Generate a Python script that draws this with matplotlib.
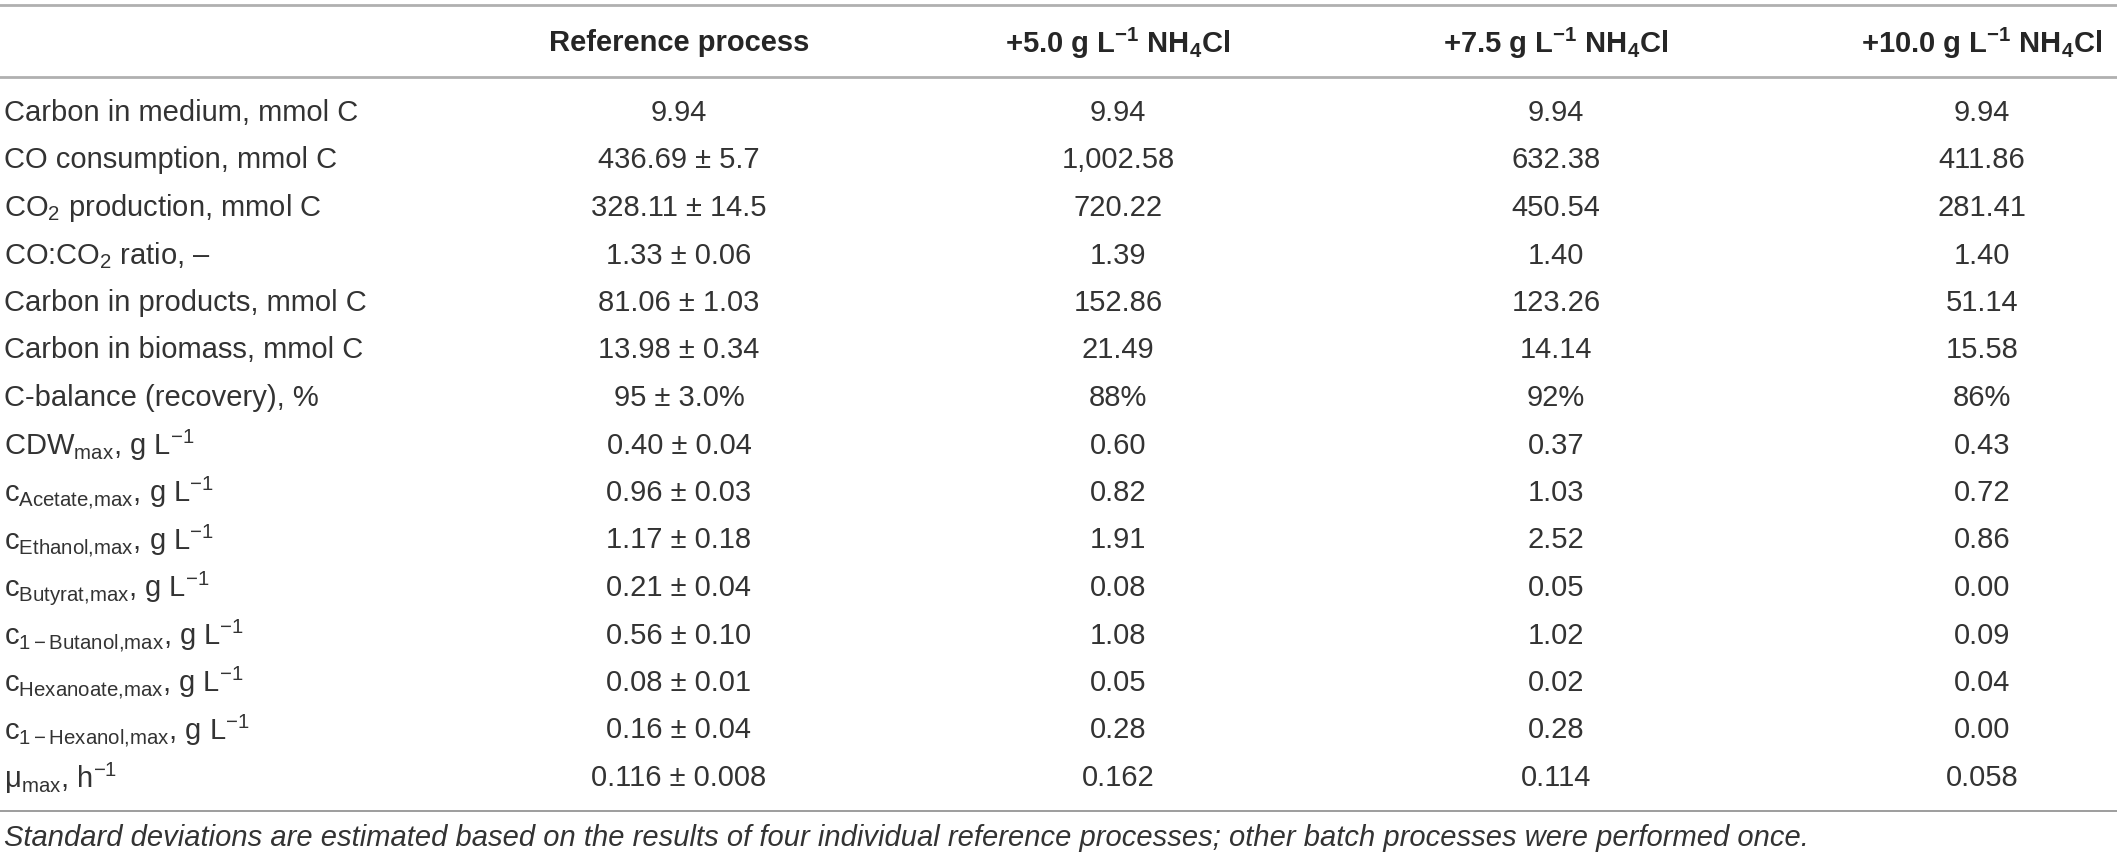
import matplotlib
matplotlib.use('Agg')
import matplotlib.pyplot as plt

plt.rcParams['font.family'] = ['Liberation Sans', 'DejaVu Sans']
plt.rcParams['mathtext.fontset'] = 'custom'
plt.rcParams['mathtext.rm'] = 'Liberation Sans'
plt.rcParams['mathtext.it'] = 'Liberation Sans:italic'
plt.rcParams['mathtext.bf'] = 'Liberation Sans:bold'

# 表头
col_headers = [
    'Reference process',
    r'+5.0 g L$^{\mathbf{-1}}$ NH$_{\mathbf{4}}$Cl',
    r'+7.5 g L$^{\mathbf{-1}}$ NH$_{\mathbf{4}}$Cl',
    r'+10.0 g L$^{\mathbf{-1}}$ NH$_{\mathbf{4}}$Cl',
]

row_labels = [
    'Carbon in medium, mmol C',
    'CO consumption, mmol C',
    r'CO$_2$ production, mmol C',
    r'CO:CO$_2$ ratio, –',
    'Carbon in products, mmol C',
    'Carbon in biomass, mmol C',
    'C-balance (recovery), %',
    r'CDW$_{\mathrm{max}}$, g L$^{-1}$',
    r'c$_{\mathrm{Acetate{,}max}}$, g L$^{-1}$',
    r'c$_{\mathrm{Ethanol{,}max}}$, g L$^{-1}$',
    r'c$_{\mathrm{Butyrat{,}max}}$, g L$^{-1}$',
    r'c$_{\mathrm{1-Butanol{,}max}}$, g L$^{-1}$',
    r'c$_{\mathrm{Hexanoate{,}max}}$, g L$^{-1}$',
    r'c$_{\mathrm{1-Hexanol{,}max}}$, g L$^{-1}$',
    r'μ$_{\mathrm{max}}$, h$^{-1}$',
]

ref_process = ['9.94', '436.69 ± 5.7', '328.11 ± 14.5', '1.33 ± 0.06', '81.06 ± 1.03',
               '13.98 ± 0.34', '95 ± 3.0%', '0.40 ± 0.04', '0.96 ± 0.03', '1.17 ± 0.18',
               '0.21 ± 0.04', '0.56 ± 0.10', '0.08 ± 0.01', '0.16 ± 0.04', '0.116 ± 0.008']
nh4cl_5 = ['9.94', '1,002.58', '720.22', '1.39', '152.86', '21.49', '88%', '0.60',
           '0.82', '1.91', '0.08', '1.08', '0.05', '0.28', '0.162']
nh4cl_7_5 = ['9.94', '632.38', '450.54', '1.40', '123.26', '14.14', '92%', '0.37',
             '1.03', '2.52', '0.05', '1.02', '0.02', '0.28', '0.114']
nh4cl_10 = ['9.94', '411.86', '281.41', '1.40', '51.14', '15.58', '86%', '0.43',
            '0.72', '0.86', '0.00', '0.09', '0.04', '0.00', '0.058']

footnote = ('Standard deviations are estimated based on the results of four individual '
            'reference processes; other batch processes were performed once.')

W, H = 2117, 859
fig = plt.figure(figsize=(W / 100, H / 100), dpi=100)
ax = fig.add_axes([0, 0, 1, 1])
ax.set_xlim(0, W)
ax.set_ylim(H, 0)
ax.axis('off')

txt_color = '#333333'
fs = 21
col_x = [679, 1118, 1556, 1982]
row_y0, row_dy = 113, 47.5

# 横线
ax.plot([0, W], [5, 5], color='#b0b0b0', lw=2)
ax.plot([0, W], [77, 77], color='#b0b0b0', lw=2)
ax.plot([0, W], [811, 811], color='#8c8c8c', lw=1.2)

for cx, head in zip(col_x, col_headers):
    ax.text(cx, 43, head, ha='center', va='center', fontsize=fs,
            fontweight='bold', color='#262626')

columns = [ref_process, nh4cl_5, nh4cl_7_5, nh4cl_10]
for i, label in enumerate(row_labels):
    y = row_y0 + i * row_dy
    ax.text(4, y, label, ha='left', va='center', fontsize=fs, color=txt_color)
    for cx, col in zip(col_x, columns):
        ax.text(cx, y, col[i], ha='center', va='center', fontsize=fs, color=txt_color)

ax.text(4, 838, footnote, ha='left', va='center', fontsize=fs,
        style='italic', color=txt_color)

fig.savefig('out.png', dpi=100)
